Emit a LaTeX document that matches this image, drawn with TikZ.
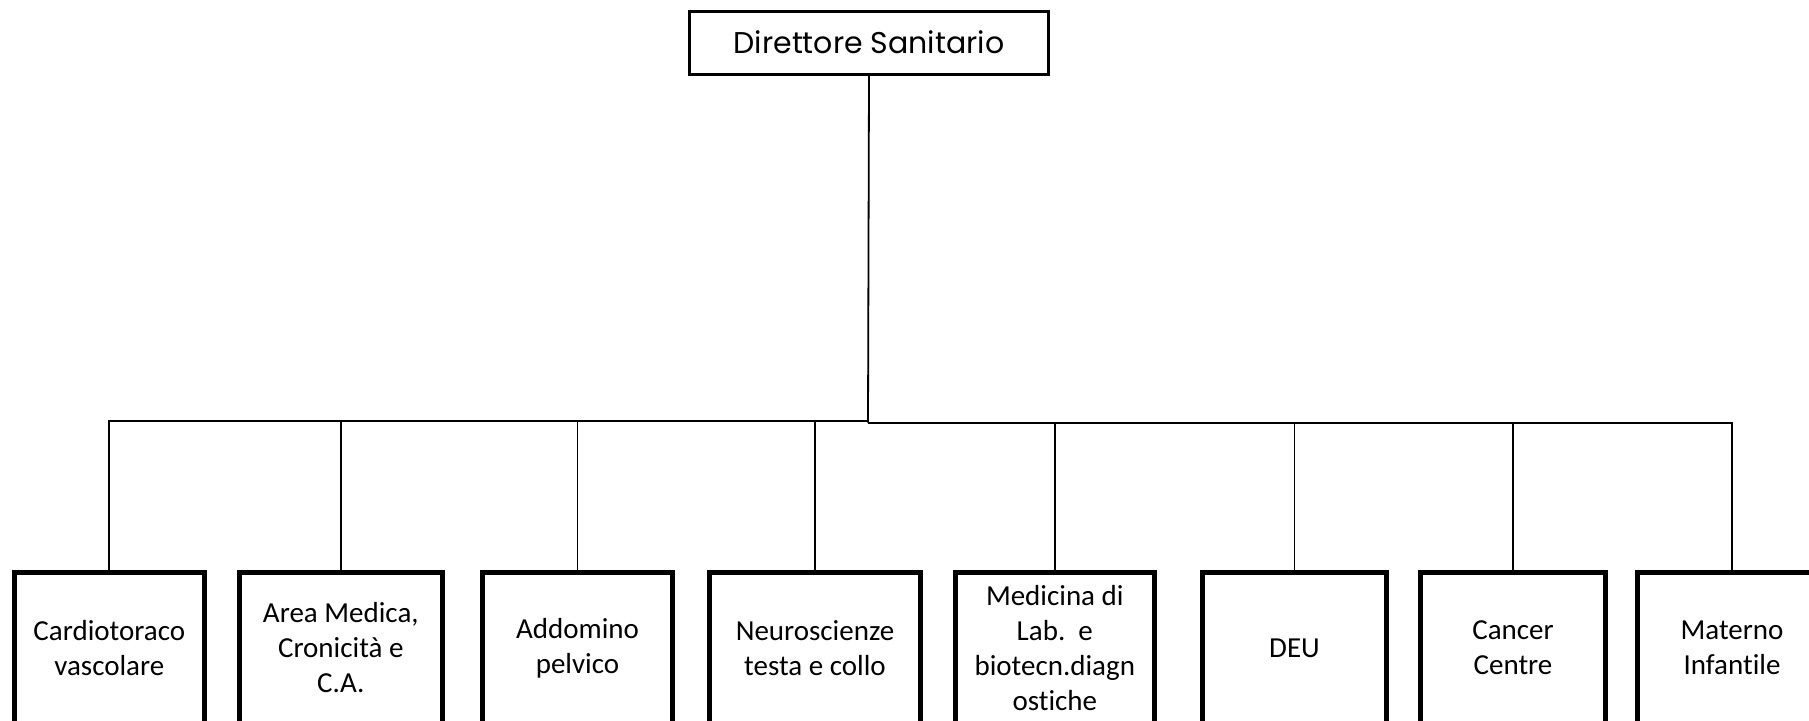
\documentclass[tikz,border=0pt]{standalone}
\usepackage{fontspec}
\setmainfont[Ligatures=NoCommon]{Carlito}
\newfontfamily\headfont{Poppins}
\begin{document}
\begin{tikzpicture}[x=1pt,y=-1pt,
  unitbox/.style={draw=black,line width=5pt,rectangle,inner sep=0pt,align=center,
    font=\fontsize{29}{35}\selectfont,minimum height=151pt},
  headbox/.style={draw=black,line width=3pt,rectangle,inner sep=0pt,
    font=\headfont\fontsize{30}{34}\selectfont,minimum width=359pt,minimum height=63pt},
  link/.style={draw=black,line width=1.8pt}]
\useasboundingbox (0,0) rectangle (1809,720);
\clip (0,0) rectangle (1809,720);
\fill[white] (0,0) rectangle (1809,720);
\node[headbox] (top) at (869,42.5) {Direttore Sanitario};
\node[unitbox,minimum width=190pt] (b1) at (109.3,648) {Cardiotoraco\\vascolare};
\node[unitbox,minimum width=203pt] (b2) at (340.8,648) {Area Medica,\\Cronicità e\\C.A.};
\node[unitbox,minimum width=190pt] (b3) at (577.5,648) {Addomino\\pelvico};
\node[unitbox,minimum width=211pt] (b4) at (815,648) {Neuroscienze\\testa e collo};
\node[unitbox,minimum width=199pt] (b5) at (1054.8,648) {Medicina di\\Lab.\ \ e\\biotecn.diagn\\ostiche};
\node[unitbox,minimum width=184pt] (b6) at (1294.5,648) {DEU};
\node[unitbox,minimum width=185pt] (b7) at (1513,648) {Cancer\\Centre};
\node[unitbox,minimum width=190pt] (b8) at (1732,648) {Materno\\Infantile};
\coordinate (jl) at (868,420.7);
\coordinate (jr) at (868,422.7);
\draw[link] (top.south) -- (jr);
\foreach \b in {b1,b2,b3,b4}{\draw[link] (\b.north) |- (jl);}
\foreach \b in {b5,b6,b7,b8}{\draw[link] (\b.north) |- (jr);}
\end{tikzpicture}
\end{document}
